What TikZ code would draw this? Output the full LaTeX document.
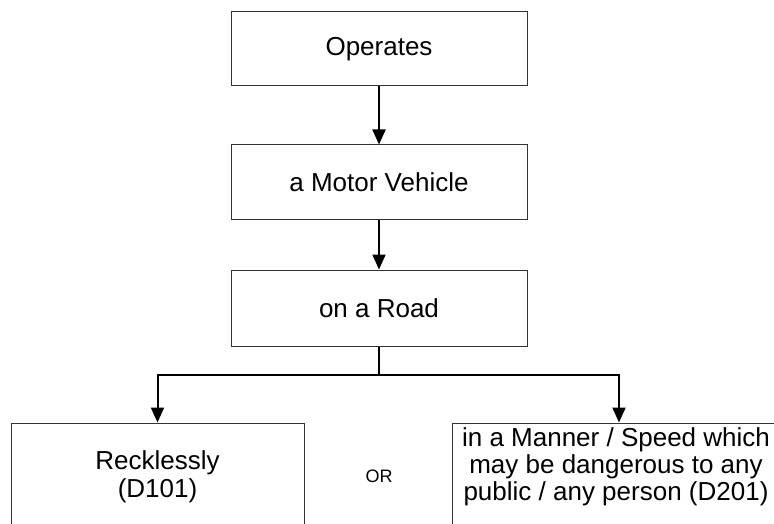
\documentclass[tikz,border=0pt]{standalone}
\usepackage{fontspec}
\setmainfont{Liberation Sans}
\usetikzlibrary{arrows.meta}
\begin{document}
\begin{tikzpicture}[x=1pt,y=1pt,
  box/.style={draw=black!80, line width=1pt, rectangle, inner sep=0pt,
    font=\fontsize{26}{27}\selectfont},
  midbox/.style={box, minimum width=296pt, minimum height=74pt},
  lowbox/.style={box, minimum height=120pt},
  label/.style={font=\fontsize{26}{27}\selectfont, align=center, inner sep=0pt},
  arr/.style={line width=2pt, -{Triangle[length=15pt,width=13pt]}},
  link/.style={line width=2pt}]
  \fill[white] (0,0) rectangle (774,-524);
  \useasboundingbox (0,0) rectangle (774,-524);
  \clip (0,0) rectangle (774,-524);

  % chain of elements
  \node[midbox] (op)   at (379,-49)  {Operates};
  \node[midbox] (mv)   at (379,-182) {a Motor Vehicle};
  \node[midbox, minimum height=76pt] (road) at (379,-308) {on a Road};

  % the two alternative offences (lower edges run off the page)
  \node[lowbox, minimum width=293pt] (reck) at (157.5,-483) {};
  \node[lowbox, minimum width=334pt] (dang) at (619,-483) {};
  \node[label] (reckt) at (157.5,-477) {Recklessly\\[1pt](D101)};
  \node[label] (dangt) at (616,-467) {in a Manner / Speed which\\may be dangerous to any\\public / any person (D201)};
  \node[font=\fontsize{18}{20}\selectfont, inner sep=0pt] (or) at (379,-476) {OR};

  % connectors
  \draw[arr] (op) -- (mv);
  \draw[arr] (mv) -- (road);
  \coordinate (split) at (379,-375);
  \draw[link] (road.south) -- (split);
  \draw[arr] (split) -| (reck.north);
  \draw[arr] (split) -| (dang.north);
\end{tikzpicture}
\end{document}
